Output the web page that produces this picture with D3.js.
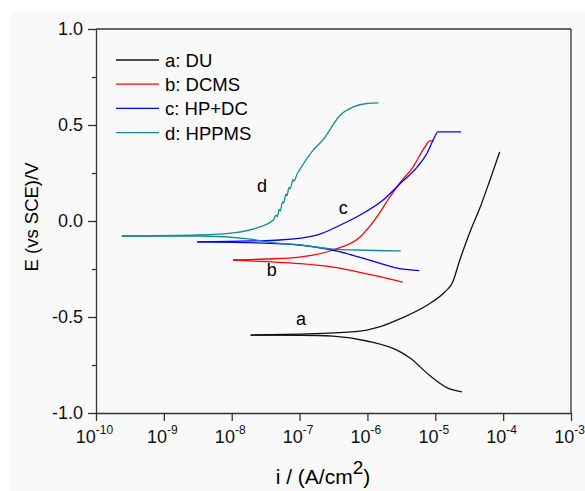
<!DOCTYPE html>
<meta charset="utf-8">
<head>
<style>
body { margin: 0; background: #fff; }
svg { font-family: Arial, "Liberation Sans", sans-serif; }
.axis path, .axis line { stroke: #333; stroke-width: 1.3; }
.axis text { font-size: 18px; fill: #111; }
</style>
</head>
<body>
<div id="chart"></div>
<script src="https://d3js.org/d3.v7.min.js"></script>
<script>

// data: [i (A/cm2), E (V vs SCE)], each branch starts at Ecorr tip
var duCathodic = [[1.9e-8,-0.594],[1.0e-7,-0.595],[3.1e-7,-0.600],[9.8e-7,-0.625],
  [3.0e-6,-0.680],[4.2e-6,-0.712],[8.3e-6,-0.805],[1.48e-5,-0.868],[2.47e-5,-0.890]];
var duAnodic = [[1.9e-8,-0.594],[1.0e-7,-0.589],[3.1e-7,-0.583],[9.8e-7,-0.568],[1.5e-6,-0.552],
  [3.0e-6,-0.510],[8.3e-6,-0.430],[1.38e-5,-0.370],[1.78e-5,-0.323],[2.3e-5,-0.203],
  [3.2e-5,-0.062],[4.6e-5,0.073],[6.4e-5,0.214],[8.9e-5,0.360]];

var dcmsCathodic = [[1.05e-8,-0.203],[3.3e-8,-0.212],[1.0e-7,-0.222],[3.1e-7,-0.240],
  [9.8e-7,-0.275],[1.53e-6,-0.290],[3.3e-6,-0.318]];
var dcmsAnodic = [[1.05e-8,-0.203],[3.3e-8,-0.198],[1.0e-7,-0.188],[3.1e-7,-0.151],[7.8e-7,-0.083],
  [1.38e-6,0.021],[2.14e-6,0.125],[3.0e-6,0.198],[4.7e-6,0.281],[7.0e-6,0.385],[8.3e-6,0.417],[9.5e-6,0.417]];

var hpdcCathodic = [[3.1e-9,-0.109],[1.9e-8,-0.113],[1.0e-7,-0.125],[4.0e-7,-0.161],[9.8e-7,-0.200],
  [1.5e-6,-0.219],[3.0e-6,-0.248],[5.8e-6,-0.258]];
var hpdcAnodic = [[3.1e-9,-0.109],[1.9e-8,-0.104],[5.1e-8,-0.099],[1.8e-7,-0.073],[4.0e-7,-0.021],
  [7.8e-7,0.031],[1.7e-6,0.109],[3.0e-6,0.193],[5.4e-6,0.281],[7.6e-6,0.354],[9.3e-6,0.422],
  [1.1e-5,0.464],[2.4e-5,0.464]];

var hppmsCathodic = [[2.4e-10,-0.078],[3.4e-9,-0.078],[1.9e-8,-0.094],[3.3e-8,-0.109],[1.0e-7,-0.125],
  [3.1e-7,-0.146],[7.1e-7,-0.151],[3.1e-6,-0.156]];
var hppmsAnodic = [[2.4e-10,-0.078],[3.4e-9,-0.073],[1.05e-8,-0.062],[2.35e-8,-0.036],[4.1e-8,0.005],
  [4.5e-8,0.030],[4.7e-8,0.022],[5.0e-8,0.060],[5.2e-8,0.052],[5.6e-8,0.100],[5.8e-8,0.092],
  [6.3e-8,0.140],[6.5e-8,0.132],[7.0e-8,0.175],[7.3e-8,0.168],[8.0e-8,0.215],[8.3e-8,0.208],
  [9.2e-8,0.245],[1.0e-7,0.266],[1.6e-7,0.370],[2.2e-7,0.422],[4.0e-7,0.552],[6.2e-7,0.594],
  [9.8e-7,0.612],[1.45e-6,0.615]];

var seriesNames = ["a: DU", "b: DCMS", "c: HP+DC", "d: HPPMS"];
var seriesColors = ["#111111", "#ff0000", "#0000ff", "#138f8f"];
var seriesBranches = [[duCathodic, duAnodic], [dcmsCathodic, dcmsAnodic],
  [hpdcCathodic, hpdcAnodic], [hppmsCathodic, hppmsAnodic]];
var curveLabels = [["a", 1.05e-7, -0.542], ["b", 3.9e-8, -0.286], ["c", 4.4e-7, 0.036], ["d", 2.8e-8, 0.151]];

var xTicks = [1e-10, 1e-9, 1e-8, 1e-7, 1e-6, 1e-5, 1e-4, 1e-3];
var yTicks = [-1.0, -0.5, 0.0, 0.5, 1.0];
var yMinorTicks = [-0.75, -0.25, 0.25, 0.75];

var W = 585, H = 491;
var margin = {top: 29, right: 14, bottom: 78, left: 96};
var width = W - margin.left - margin.right,
    height = H - margin.top - margin.bottom;

var svg = d3.select("#chart").append("svg")
  .attr("width", W).attr("height", H);

svg.append("rect").attr("x", 11).attr("y", 12).attr("width", W - 11).attr("height", H - 12)
  .attr("fill", "#f9f9f9");

var canvas = svg.append("g")
  .attr("transform", "translate(" + margin.left + "," + margin.top + ")");

var x = d3.scaleLog().domain([1e-10, 1e-3]).range([0, width]);
var y = d3.scaleLinear().domain([-1, 1]).range([height, 0]);

// x axis with superscript labels
var xAxis = canvas.append("g")
  .attr("class", "x axis")
  .attr("transform", "translate(0," + height + ")")
  .call(d3.axisBottom(x).tickValues(xTicks).tickSize(8).tickSizeOuter(0).tickFormat(""));
xAxis.selectAll(".tick").append("text")
  .attr("y", 30).attr("x", -2)
  .attr("text-anchor", "middle")
  .each(function(d) {
    var t = d3.select(this);
    t.append("tspan").text("10");
    t.append("tspan").attr("dy", -9).style("font-size", "12px").text(Math.round(Math.log10(d)));
  });

var yAxis = canvas.append("g")
  .attr("class", "y axis")
  .call(d3.axisLeft(y).tickValues(yTicks).tickSize(8).tickSizeOuter(0).tickPadding(5)
    .tickFormat(d3.format(".1f")));
yAxis.selectAll("text").text(function(d) { return d3.format(".1f")(d).replace("−", "-"); });

canvas.append("g")
  .attr("class", "y axis")
  .call(d3.axisLeft(y).tickValues(yMinorTicks).tickSize(4).tickSizeOuter(0).tickFormat(""))
  .select(".domain").remove();

// frame top and right
canvas.append("line").attr("x1", 0).attr("x2", width).attr("y1", 0).attr("y2", 0)
  .attr("stroke", "#333").attr("stroke-width", 1.3);
canvas.append("line").attr("x1", width).attr("x2", width).attr("y1", 0).attr("y2", height)
  .attr("stroke", "#333").attr("stroke-width", 1.3);

var line = d3.line()
  .x(function(d) { return x(d[0]); })
  .y(function(d) { return y(d[1]); })
  .curve(d3.curveMonotoneX);

seriesBranches.forEach(function(branches, k) {
  branches.forEach(function(b) {
    canvas.append("path")
      .datum(b)
      .attr("d", line)
      .attr("fill", "none")
      .attr("stroke", seriesColors[k])
      .attr("stroke-width", 1.3);
  });
});

canvas.selectAll(".clabel")
  .data(curveLabels)
  .enter().append("text")
  .attr("class", "clabel")
  .attr("x", function(d) { return x(d[1]); })
  .attr("y", function(d) { return y(d[2]); })
  .attr("text-anchor", "middle")
  .style("font-size", "18px")
  .text(function(d) { return d[0]; });

// legend
var legend = canvas.selectAll(".legend")
  .data(seriesNames)
  .enter().append("g")
  .attr("class", "legend")
  .attr("transform", function(d, i) { return "translate(20," + (31 + i * 24.2) + ")"; });
legend.append("line")
  .attr("x1", 0).attr("x2", 43)
  .attr("stroke", function(d, i) { return seriesColors[i]; })
  .attr("stroke-width", 1.3);
legend.append("text")
  .attr("x", 49).attr("y", 7)
  .style("font-size", "18.5px")
  .text(function(d) { return d; });

// axis titles
svg.append("text")
  .attr("transform", "translate(38,217)rotate(-90)")
  .attr("text-anchor", "middle")
  .style("font-size", "18.5px")
  .text("E (vs SCE)/V");

var xt = svg.append("text")
  .attr("x", 323).attr("y", 484)
  .attr("text-anchor", "middle")
  .style("font-size", "21px");
xt.append("tspan").text("i / (A/cm");
xt.append("tspan").attr("dy", -10).style("font-size", "19px").text("2");
xt.append("tspan").attr("dy", 10).text(")");

</script>
</body>
</html>
